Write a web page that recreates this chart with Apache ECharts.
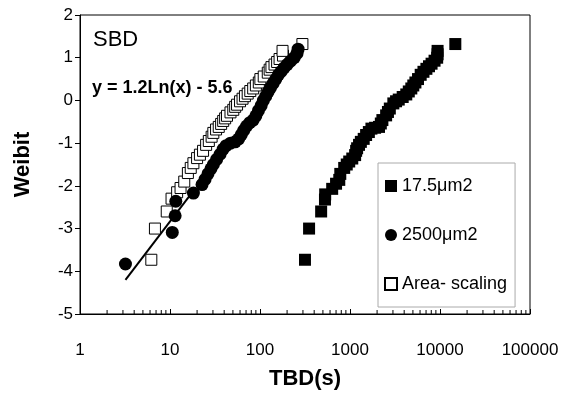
<!DOCTYPE html>
<html><head><meta charset="utf-8">
<script src="https://cdn.jsdelivr.net/npm/echarts@6/dist/echarts.min.js"></script>
<style>html,body{margin:0;padding:0;background:#fff}#c{width:565px;height:395px}</style>
</head><body><div id="c"></div>
<script>
// 17.5um2 series (filled squares)
const smallX = [316, 351, 478, 527, 530, 634, 700, 760, 780, 862, 920, 980, 1060, 1140, 1170, 1200, 1260, 1320, 1420, 1510, 1620, 1730, 1900, 2100, 2200, 2290, 2520, 2640, 2770, 3030, 3250, 3480, 3850, 4220, 4500, 4800, 5050, 5330, 5700, 6100, 6550, 7060, 7550, 8060, 8700, 9300, 9400, 9400, 14800];
const smallY = [-3.73, -3.0, -2.6, -2.32, -2.2, -2.07, -1.95, -1.86, -1.72, -1.58, -1.5, -1.43, -1.36, -1.28, -1.18, -1.12, -1.04, -0.97, -0.9, -0.81, -0.74, -0.66, -0.64, -0.62, -0.54, -0.46, -0.35, -0.27, -0.19, -0.07, -0.02, 0.02, 0.08, 0.14, 0.21, 0.28, 0.35, 0.42, 0.5, 0.6, 0.67, 0.74, 0.8, 0.86, 0.93, 1.0, 1.08, 1.16, 1.32];
// 2500um2 series (filled circles)
const largeX = [3.2, 10.6, 11.4, 11.6, 18.2, 22.7, 24.5, 26.4, 28.5, 30.3, 33, 36, 39, 42, 47, 53, 58, 62, 66, 71, 77, 84, 90, 96, 103, 109, 116, 123, 131, 140, 150, 160, 172, 185, 200, 218, 240, 258, 265];
const largeY = [-3.83, -3.09, -2.7, -2.36, -2.17, -1.97, -1.85, -1.72, -1.6, -1.5, -1.38, -1.26, -1.14, -1.06, -1.0, -0.97, -0.9, -0.8, -0.7, -0.6, -0.52, -0.46, -0.36, -0.24, -0.12, 0.0, 0.1, 0.2, 0.3, 0.4, 0.5, 0.6, 0.68, 0.76, 0.84, 0.92, 1.0, 1.1, 1.2];
// Area-scaling series (open squares)
const scaledX = [6.2, 6.8, 9.2, 10.4, 12, 13.1, 14.4, 15.8, 17, 18.2, 20, 21.5, 23.3, 25.2, 27, 29, 30.3, 32.5, 34.8, 37, 39, 41, 43, 47, 50.5, 53, 55.6, 60, 64, 68, 73, 78, 84, 90, 97, 101, 110, 122, 128, 134, 145, 155, 165, 180, 178, 296];
const scaledY = [-3.73, -3.0, -2.6, -2.3, -2.15, -2.05, -1.9, -1.7, -1.58, -1.47, -1.35, -1.27, -1.18, -1.04, -0.95, -0.85, -0.76, -0.68, -0.62, -0.55, -0.48, -0.42, -0.36, -0.28, -0.22, -0.15, -0.1, -0.02, 0.04, 0.1, 0.16, 0.22, 0.28, 0.35, 0.42, 0.5, 0.56, 0.65, 0.72, 0.78, 0.84, 0.9, 0.97, 1.05, 1.16, 1.32];
// fitted trendline endpoints
const fitX = [3.2, 18];
const fitY = [-4.2, -2.13];
// axis tick labels
const xTicks = [1, 10, 100, 1000, 10000, 100000];
const yTicks = [-5, -4, -3, -2, -1, 0, 1, 2];
const names = ['17.5\u03bcm2', '2500\u03bcm2', 'Area- scaling'];

const zip = (a, b) => a.map((v, i) => [v, b[i]]);
const minorTicks = [];
for (let d = 0; d < xTicks.length - 1; d++) {
  for (let k = 2; k <= 9; k++) minorTicks.push([k * xTicks[d], yTicks[0]]);
}
const FONT = 'Liberation Sans, Arial, sans-serif';

const chart = echarts.init(document.getElementById('c'), null, {renderer: 'canvas'});
chart.setOption({
  animation: false,
  backgroundColor: '#fff',
  grid: {left: 80, right: 35, top: 15, bottom: 81, show: true, borderColor: '#000', borderWidth: 1, backgroundColor: 'transparent'},
  xAxis: {
    type: 'log', logBase: 10, min: xTicks[0], max: xTicks[xTicks.length - 1],
    name: 'TBD(s)', nameLocation: 'middle', nameGap: 54,
    nameTextStyle: {fontFamily: FONT, fontWeight: 'bold', fontSize: 22, color: '#000'},
    axisLine: {onZero: false, lineStyle: {color: '#000', width: 1}},
    axisTick: {inside: true, length: 5, lineStyle: {color: '#000'}},
    axisLabel: {fontFamily: FONT, fontSize: 17, color: '#000', margin: 28, formatter: v => String(Math.round(v))},
    splitLine: {show: false}
  },
  yAxis: {
    type: 'value', min: yTicks[0], max: yTicks[yTicks.length - 1], interval: 1,
    name: 'Weibit', nameLocation: 'middle', nameGap: 46,
    nameTextStyle: {fontFamily: FONT, fontWeight: 'bold', fontSize: 22, color: '#000'},
    axisLine: {show: true, onZero: false, lineStyle: {color: '#000', width: 1}},
    axisTick: {show: true, length: 5, lineStyle: {color: '#000'}},
    axisLabel: {fontFamily: FONT, fontSize: 17, color: '#000', margin: 7},
    splitLine: {show: false}
  },
  legend: {
    data: names, orient: 'vertical', left: 378, top: 163,
    padding: [14, 8, 14, 6], itemGap: 31, itemWidth: 12, itemHeight: 12,
    borderColor: '#aaa', borderWidth: 1, backgroundColor: '#fff',
    textStyle: {fontFamily: FONT, fontSize: 18, color: '#000'},
    selectedMode: false
  },
  graphic: [
    {type: 'text', left: 93, top: 29, style: {text: 'SBD', font: '22px ' + FONT, fill: '#000'}},
    {type: 'text', left: 92, top: 79, style: {text: 'y = 1.2Ln(x) - 5.6', font: 'bold 18px ' + FONT, fill: '#000'}}
  ],
  series: [
    {name: 'fit', type: 'line', data: zip(fitX, fitY), symbol: 'none', lineStyle: {color: '#000', width: 2}, z: 2, silent: true},
    {name: names[2], type: 'scatter', data: zip(scaledX, scaledY), symbol: 'rect', symbolSize: 11,
      itemStyle: {color: '#fff', borderColor: '#000', borderWidth: 1, opacity: 1}, z: 3},
    {name: names[1], type: 'scatter', data: zip(largeX, largeY), symbol: 'circle', symbolSize: 13,
      itemStyle: {color: '#000', opacity: 1}, z: 4},
    {name: names[0], type: 'scatter', data: zip(smallX, smallY), symbol: 'rect', symbolSize: 12,
      itemStyle: {color: '#000', opacity: 1}, z: 5},
    {name: 'minor', type: 'custom', data: minorTicks, silent: true, z: 6,
      renderItem: function (params, api) {
        const p = api.coord([api.value(0), api.value(1)]);
        return {type: 'line', shape: {x1: p[0], y1: p[1], x2: p[0], y2: p[1] - 4}, style: {stroke: '#000', lineWidth: 1}};
      }}
  ]
});
</script></body></html>
